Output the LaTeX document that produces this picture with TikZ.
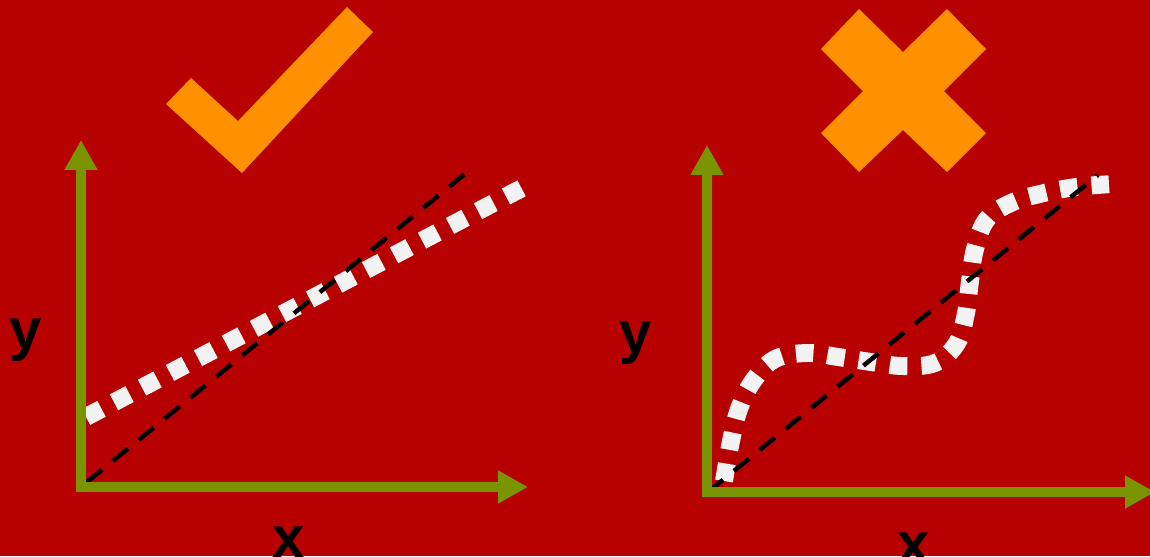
\documentclass[tikz,border=0pt]{standalone}
\usepackage{fontspec}
\setmainfont{Liberation Sans}
\usepackage{tikz}
\usetikzlibrary{arrows.meta}
\usepackage{xcolor}
\definecolor{bgred}{RGB}{183,0,0}
\definecolor{markorange}{RGB}{255,145,0}
\definecolor{axisgreen}{RGB}{122,148,0}
\definecolor{dotwhite}{RGB}{242,242,242}

\begin{document}
\begin{tikzpicture}[x=0.02cm,y=-0.02cm,line cap=butt,
  axis/.style={axisgreen,line width=10*0.567pt,-{Triangle[length=17pt,width=17.6pt]}},
  trend/.style={black,line width=4.5*0.567pt,dash pattern=on 11pt off 8pt},
  datadots/.style={dotwhite,line width=18*0.567pt,dash pattern=on 10pt off 8pt},
  lbl/.style={inner sep=0pt,anchor=base,font=\bfseries\fontsize{33}{40}\selectfont}]
\clip (0,0) rectangle (1150,556);
\fill[bgred] (0,0) rectangle (1150,556);
% left panel: good fit
\fill[markorange] (166,104) -- (191,78) -- (238,121) -- (347,7) -- (373,32) -- (242,173) -- cycle;
\draw[datadots] (86,417) -- (526,186);
\draw[trend] (87,482) -- (471,169);
\draw[axis] (81,492) -- (81,140);
\draw[axis] (80,487) -- (528,487);
\node[lbl] (yleft) at (26,349) {y};
\node[lbl] (xleft) at (289,557) {x};
% right panel: bad fit
\fill[markorange] (859,9) -- (903,52) -- (947,9) -- (986,49) -- (944,91) -- (986,133)
  -- (947,172) -- (903,130) -- (859,172) -- (821,133) -- (863,91) -- (821,49) -- cycle;
\draw[datadots] plot[smooth,tension=0.6] coordinates {(724,481) (731,441) (739,409) (753,381)
  (775,359) (807,353) (838,357) (871,362) (902,366) (935,363) (957,343) (966,313)
  (970,281) (975,249) (987,219) (1013,202) (1044,193) (1076,187) (1112,184)};
\draw[trend] (708,492) -- (1098,175);
\draw[axis] (707,497) -- (707,145);
\draw[axis] (707,492) -- (1155,492);
\node[lbl] (yright) at (636,352) {y};
\node[lbl] (xright) at (914,563) {x};
\end{tikzpicture}
\end{document}
